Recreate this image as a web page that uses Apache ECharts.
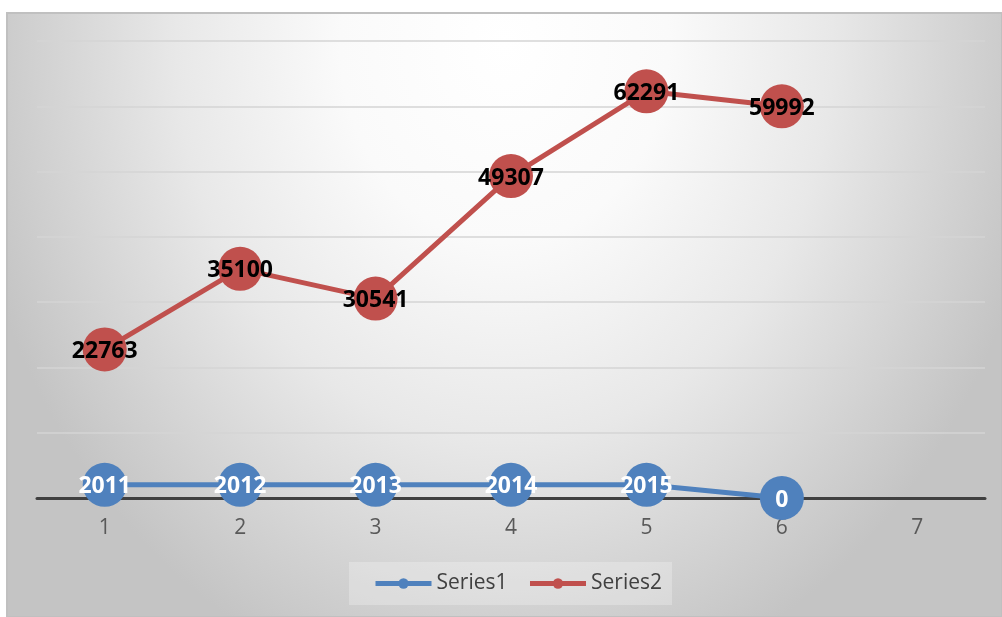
<!DOCTYPE html>
<html>
<head>
<meta charset="utf-8">
<script src="https://cdn.jsdelivr.net/npm/echarts@6/dist/echarts.min.js"></script>
<style>
html,body{margin:0;padding:0;background:#fff;}
#c{width:1002px;height:617px;}
</style>
</head>
<body>
<div id="c"></div>
<script>
var categories = ['1','2','3','4','5','6','7'];
var series1 = [2011, 2012, 2013, 2014, 2015, 0, null];
var series2 = [22763, 35100, 30541, 49307, 62291, 59992, null];
var yMin = 0, yMax = 70000, yInterval = 10000;

var chart = echarts.init(document.getElementById('c'));
var font = '"Open Sans", "Noto Sans", sans-serif';
var W = 995, H = 604, sy = 1.214;
chart.setOption({
  animation: false,
  graphic: [{
    type: 'rect', z: -10, silent: true,
    x: 7, y: 13, scaleY: sy,
    shape: {x: 0, y: 0, width: W, height: H / sy},
    style: {
      fill: new echarts.graphic.RadialGradient(0.5, 0.05, 1.1, [
        {offset: 0, color: '#ffffff'},
        {offset: 0.3, color: '#fafafa'},
        {offset: 0.6, color: '#e8e8e8'},
        {offset: 0.9, color: '#cdcdcd'},
        {offset: 1, color: '#c4c4c4'}
      ])
    }
  }, {
    type: 'rect', z: -9, silent: true,
    shape: {x: 7, y: 13, width: W, height: H},
    style: {fill: 'none', stroke: '#c0c0c0', lineWidth: 2}
  }],
  grid: {left: 37, right: 17, top: 41, bottom: 119},
  legend: {
    bottom: 12, left: 349,
    data: ['Series1', 'Series2'],
    itemWidth: 56, itemHeight: 13, itemGap: 20,
    padding: [11, 10, 11, 24],
    backgroundColor: 'rgba(255,255,255,0.25)',
    lineStyle: {width: 5},
    textStyle: {fontFamily: font, fontSize: 21, color: '#404040'}
  },
  xAxis: {
    type: 'category', data: categories, boundaryGap: true,
    axisLine: {lineStyle: {color: '#404040', width: 3}},
    axisTick: {show: false},
    axisLabel: {fontFamily: font, fontSize: 21, color: '#595959', margin: 20}
  },
  yAxis: {
    type: 'value', min: yMin, max: yMax, interval: yInterval,
    axisLabel: {show: false}, axisLine: {show: false}, axisTick: {show: false},
    splitLine: {lineStyle: {color: '#d4d4d4', width: 1.5}}
  },
  series: [{
    name: 'Series1', type: 'line', data: series1,
    symbol: 'circle', symbolSize: 44, z: 3,
    itemStyle: {color: '#4F81BD'},
    lineStyle: {color: '#4F81BD', width: 5},
    label: {show: true, position: 'inside', offset: [0, 2], fontFamily: font, fontSize: 23, fontWeight: 'bold', color: '#ffffff'}
  }, {
    name: 'Series2', type: 'line', data: series2,
    symbol: 'circle', symbolSize: 44, z: 2,
    itemStyle: {color: '#C0504D'},
    lineStyle: {color: '#C0504D', width: 5},
    label: {show: true, position: 'inside', offset: [0, 2], fontFamily: font, fontSize: 23, fontWeight: 'bold', color: '#000000'}
  }]
});
</script>
</body>
</html>
